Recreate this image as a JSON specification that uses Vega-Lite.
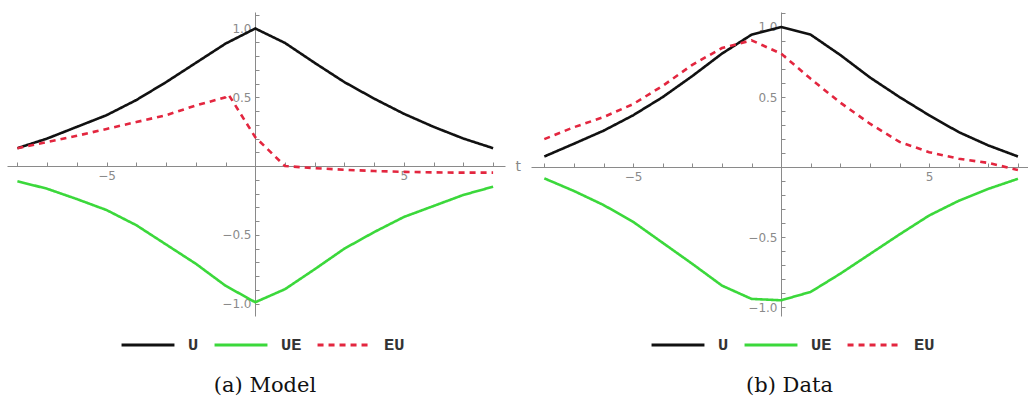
{
  "$schema": "https://vega.github.io/schema/vega-lite/v6.json",
  "background": "white",
  "padding": {"top": 12, "left": 7, "right": 0, "bottom": 0},
  "bounds": "flush",
  "spacing": 26,
  "datasets": {
    "model": [
      {"t": -8, "s": "U", "v": 0.13}, {"t": -7, "s": "U", "v": 0.2}, {"t": -6, "s": "U", "v": 0.285}, {"t": -5, "s": "U", "v": 0.37},
      {"t": -4, "s": "U", "v": 0.48}, {"t": -3, "s": "U", "v": 0.61}, {"t": -2, "s": "U", "v": 0.75}, {"t": -1, "s": "U", "v": 0.89},
      {"t": 0, "s": "U", "v": 1.0}, {"t": 1, "s": "U", "v": 0.895}, {"t": 2, "s": "U", "v": 0.75}, {"t": 3, "s": "U", "v": 0.61},
      {"t": 4, "s": "U", "v": 0.49}, {"t": 5, "s": "U", "v": 0.38}, {"t": 6, "s": "U", "v": 0.285}, {"t": 7, "s": "U", "v": 0.2},
      {"t": 8, "s": "U", "v": 0.13},
      {"t": -8, "s": "UE", "v": -0.11}, {"t": -7, "s": "UE", "v": -0.165}, {"t": -6, "s": "UE", "v": -0.24}, {"t": -5, "s": "UE", "v": -0.32},
      {"t": -4, "s": "UE", "v": -0.43}, {"t": -3, "s": "UE", "v": -0.57}, {"t": -2, "s": "UE", "v": -0.71}, {"t": -1, "s": "UE", "v": -0.87},
      {"t": 0, "s": "UE", "v": -0.99}, {"t": 1, "s": "UE", "v": -0.895}, {"t": 2, "s": "UE", "v": -0.75}, {"t": 3, "s": "UE", "v": -0.6},
      {"t": 4, "s": "UE", "v": -0.48}, {"t": 5, "s": "UE", "v": -0.37}, {"t": 6, "s": "UE", "v": -0.29}, {"t": 7, "s": "UE", "v": -0.21},
      {"t": 8, "s": "UE", "v": -0.15},
      {"t": -8, "s": "EU", "v": 0.13}, {"t": -7, "s": "EU", "v": 0.175}, {"t": -6, "s": "EU", "v": 0.22}, {"t": -5, "s": "EU", "v": 0.27},
      {"t": -4, "s": "EU", "v": 0.32}, {"t": -3, "s": "EU", "v": 0.37}, {"t": -2, "s": "EU", "v": 0.44}, {"t": -1, "s": "EU", "v": 0.5},
      {"t": -0.9, "s": "EU", "v": 0.52}, {"t": 0, "s": "EU", "v": 0.21}, {"t": 1, "s": "EU", "v": 0.0}, {"t": 2, "s": "EU", "v": -0.015},
      {"t": 3, "s": "EU", "v": -0.027}, {"t": 4, "s": "EU", "v": -0.036}, {"t": 5, "s": "EU", "v": -0.042}, {"t": 6, "s": "EU", "v": -0.046},
      {"t": 7, "s": "EU", "v": -0.048}, {"t": 8, "s": "EU", "v": -0.048}
    ],
    "data": [
      {"t": -8, "s": "U", "v": 0.076}, {"t": -7, "s": "U", "v": 0.167}, {"t": -6, "s": "U", "v": 0.26}, {"t": -5, "s": "U", "v": 0.37},
      {"t": -4, "s": "U", "v": 0.5}, {"t": -3, "s": "U", "v": 0.65}, {"t": -2, "s": "U", "v": 0.81}, {"t": -1, "s": "U", "v": 0.945},
      {"t": 0, "s": "U", "v": 1.0}, {"t": 1, "s": "U", "v": 0.945}, {"t": 2, "s": "U", "v": 0.8}, {"t": 3, "s": "U", "v": 0.64},
      {"t": 4, "s": "U", "v": 0.5}, {"t": 5, "s": "U", "v": 0.37}, {"t": 6, "s": "U", "v": 0.25}, {"t": 7, "s": "U", "v": 0.155},
      {"t": 8, "s": "U", "v": 0.076},
      {"t": -8, "s": "UE", "v": -0.08}, {"t": -7, "s": "UE", "v": -0.17}, {"t": -6, "s": "UE", "v": -0.27}, {"t": -5, "s": "UE", "v": -0.39},
      {"t": -4, "s": "UE", "v": -0.54}, {"t": -3, "s": "UE", "v": -0.69}, {"t": -2, "s": "UE", "v": -0.845}, {"t": -1, "s": "UE", "v": -0.94},
      {"t": 0, "s": "UE", "v": -0.95}, {"t": 1, "s": "UE", "v": -0.89}, {"t": 2, "s": "UE", "v": -0.76}, {"t": 3, "s": "UE", "v": -0.62},
      {"t": 4, "s": "UE", "v": -0.48}, {"t": 5, "s": "UE", "v": -0.345}, {"t": 6, "s": "UE", "v": -0.24}, {"t": 7, "s": "UE", "v": -0.155},
      {"t": 8, "s": "UE", "v": -0.083},
      {"t": -8, "s": "EU", "v": 0.2}, {"t": -7, "s": "EU", "v": 0.285}, {"t": -6, "s": "EU", "v": 0.357}, {"t": -5, "s": "EU", "v": 0.45},
      {"t": -4, "s": "EU", "v": 0.58}, {"t": -3, "s": "EU", "v": 0.73}, {"t": -2, "s": "EU", "v": 0.85}, {"t": -1, "s": "EU", "v": 0.905},
      {"t": 0, "s": "EU", "v": 0.81}, {"t": 1, "s": "EU", "v": 0.63}, {"t": 2, "s": "EU", "v": 0.46}, {"t": 3, "s": "EU", "v": 0.31},
      {"t": 4, "s": "EU", "v": 0.18}, {"t": 5, "s": "EU", "v": 0.107}, {"t": 6, "s": "EU", "v": 0.06}, {"t": 7, "s": "EU", "v": 0.03},
      {"t": 8, "s": "EU", "v": -0.02}
    ]
  },
  "resolve": {"scale": {"x": "independent", "y": "independent"}, "legend": {"color": "independent", "strokeDash": "independent"}},
  "hconcat": [
    {
      "data": {"name": "model"},
      "width": 498,
      "height": 304,
      "title": {"text": "(a) Model", "orient": "bottom", "font": "DejaVu Serif", "fontSize": 21, "fontWeight": "normal", "color": "#111", "offset": 22, "dx": 9},
      "mark": {"type": "line", "strokeWidth": 2.6, "clip": false},
      "encoding": {
        "x": {"field": "t", "type": "quantitative", "scale": {"domain": [-8.35, 8.4], "nice": false, "zero": false},
          "axis": {"offset": -150, "values": [-8, -7, -6, -5, -4, -3, -2, -1, 0, 1, 2, 3, 4, 5, 6, 7, 8],
            "labelExpr": "abs(datum.value) == 5 ? datum.label : ''", "tickSize": -4, "labelPadding": 8,
            "title": "t", "titleX": 508, "titleY": 0, "titleAlign": "left", "titleBaseline": "middle", "titleAngle": 0,
            "titleFont": "DejaVu Sans", "titleFontSize": 14, "titleFontWeight": "normal", "titleColor": "#888"}},
        "y": {"field": "v", "type": "quantitative", "scale": {"domain": [-1.09, 1.12], "nice": false, "zero": false},
          "axis": {"offset": -248, "values": [-1.0, -0.9, -0.8, -0.7, -0.6, -0.5, -0.4, -0.3, -0.2, -0.1, 0.1, 0.2, 0.3, 0.4, 0.5, 0.6, 0.7, 0.8, 0.9, 1.0, 1.1],
            "labelExpr": "(abs(abs(datum.value) - 0.5) < 0.001 || abs(abs(datum.value) - 1) < 0.001) ? format(datum.value, '.1f') : ''",
            "tickSize": -4, "labelPadding": 8, "title": null}},
        "color": {"field": "s", "type": "nominal", "scale": {"domain": ["U", "UE", "EU"], "range": ["#111111", "#3bd83b", "#e3263f"]},
          "legend": {"orient": "none", "legendX": 113, "legendY": 305, "direction": "horizontal", "title": null}},
        "strokeDash": {"field": "s", "type": "nominal", "scale": {"domain": ["U", "UE", "EU"], "range": [[1, 0], [1, 0], [6, 5]]},
          "legend": {"orient": "none", "legendX": 113, "legendY": 305, "direction": "horizontal", "title": null}}
      }
    },
    {
      "data": {"name": "data"},
      "width": 497,
      "height": 304,
      "title": {"text": "(b) Data", "orient": "bottom", "font": "DejaVu Serif", "fontSize": 21, "fontWeight": "normal", "color": "#111", "offset": 22, "dx": 10},
      "mark": {"type": "line", "strokeWidth": 2.6, "clip": false},
      "encoding": {
        "x": {"field": "t", "type": "quantitative", "scale": {"domain": [-8.45, 8.34], "nice": false, "zero": false},
          "axis": {"offset": -149, "values": [-8, -7, -6, -5, -4, -3, -2, -1, 0, 1, 2, 3, 4, 5, 6, 7, 8],
            "labelExpr": "abs(datum.value) == 5 ? datum.label : ''", "tickSize": -4, "labelPadding": 8, "title": null}},
        "y": {"field": "v", "type": "quantitative", "scale": {"domain": [-1.062, 1.107], "nice": false, "zero": false},
          "axis": {"offset": -250, "values": [-1.0, -0.9, -0.8, -0.7, -0.6, -0.5, -0.4, -0.3, -0.2, -0.1, 0.1, 0.2, 0.3, 0.4, 0.5, 0.6, 0.7, 0.8, 0.9, 1.0, 1.1],
            "labelExpr": "(abs(abs(datum.value) - 0.5) < 0.001 || abs(abs(datum.value) - 1) < 0.001) ? format(datum.value, '.1f') : ''",
            "tickSize": -4, "labelPadding": 8, "title": null}},
        "color": {"field": "s", "type": "nominal", "scale": {"domain": ["U", "UE", "EU"], "range": ["#111111", "#3bd83b", "#e3263f"]},
          "legend": {"orient": "none", "legendX": 119, "legendY": 305, "direction": "horizontal", "title": null}},
        "strokeDash": {"field": "s", "type": "nominal", "scale": {"domain": ["U", "UE", "EU"], "range": [[1, 0], [1, 0], [6, 5]]},
          "legend": {"orient": "none", "legendX": 119, "legendY": 305, "direction": "horizontal", "title": null}}
      }
    }
  ],
  "config": {
    "view": {"stroke": null},
    "axis": {"domainColor": "#8a8a8a", "tickColor": "#8a8a8a", "labelColor": "#8a8a8a", "labelFont": "DejaVu Sans", "labelFontSize": 12, "grid": false, "domainWidth": 1, "tickWidth": 1},
    "legend": {"symbolType": "stroke", "symbolSize": 2800, "symbolStrokeWidth": 3, "labelFont": "Liberation Mono", "labelFontSize": 17, "labelFontWeight": "bold", "labelColor": "#333333", "labelOffset": 12, "columnPadding": 9, "gridAlign": "none", "symbolOffset": 0, "padding": 0}
  }
}
